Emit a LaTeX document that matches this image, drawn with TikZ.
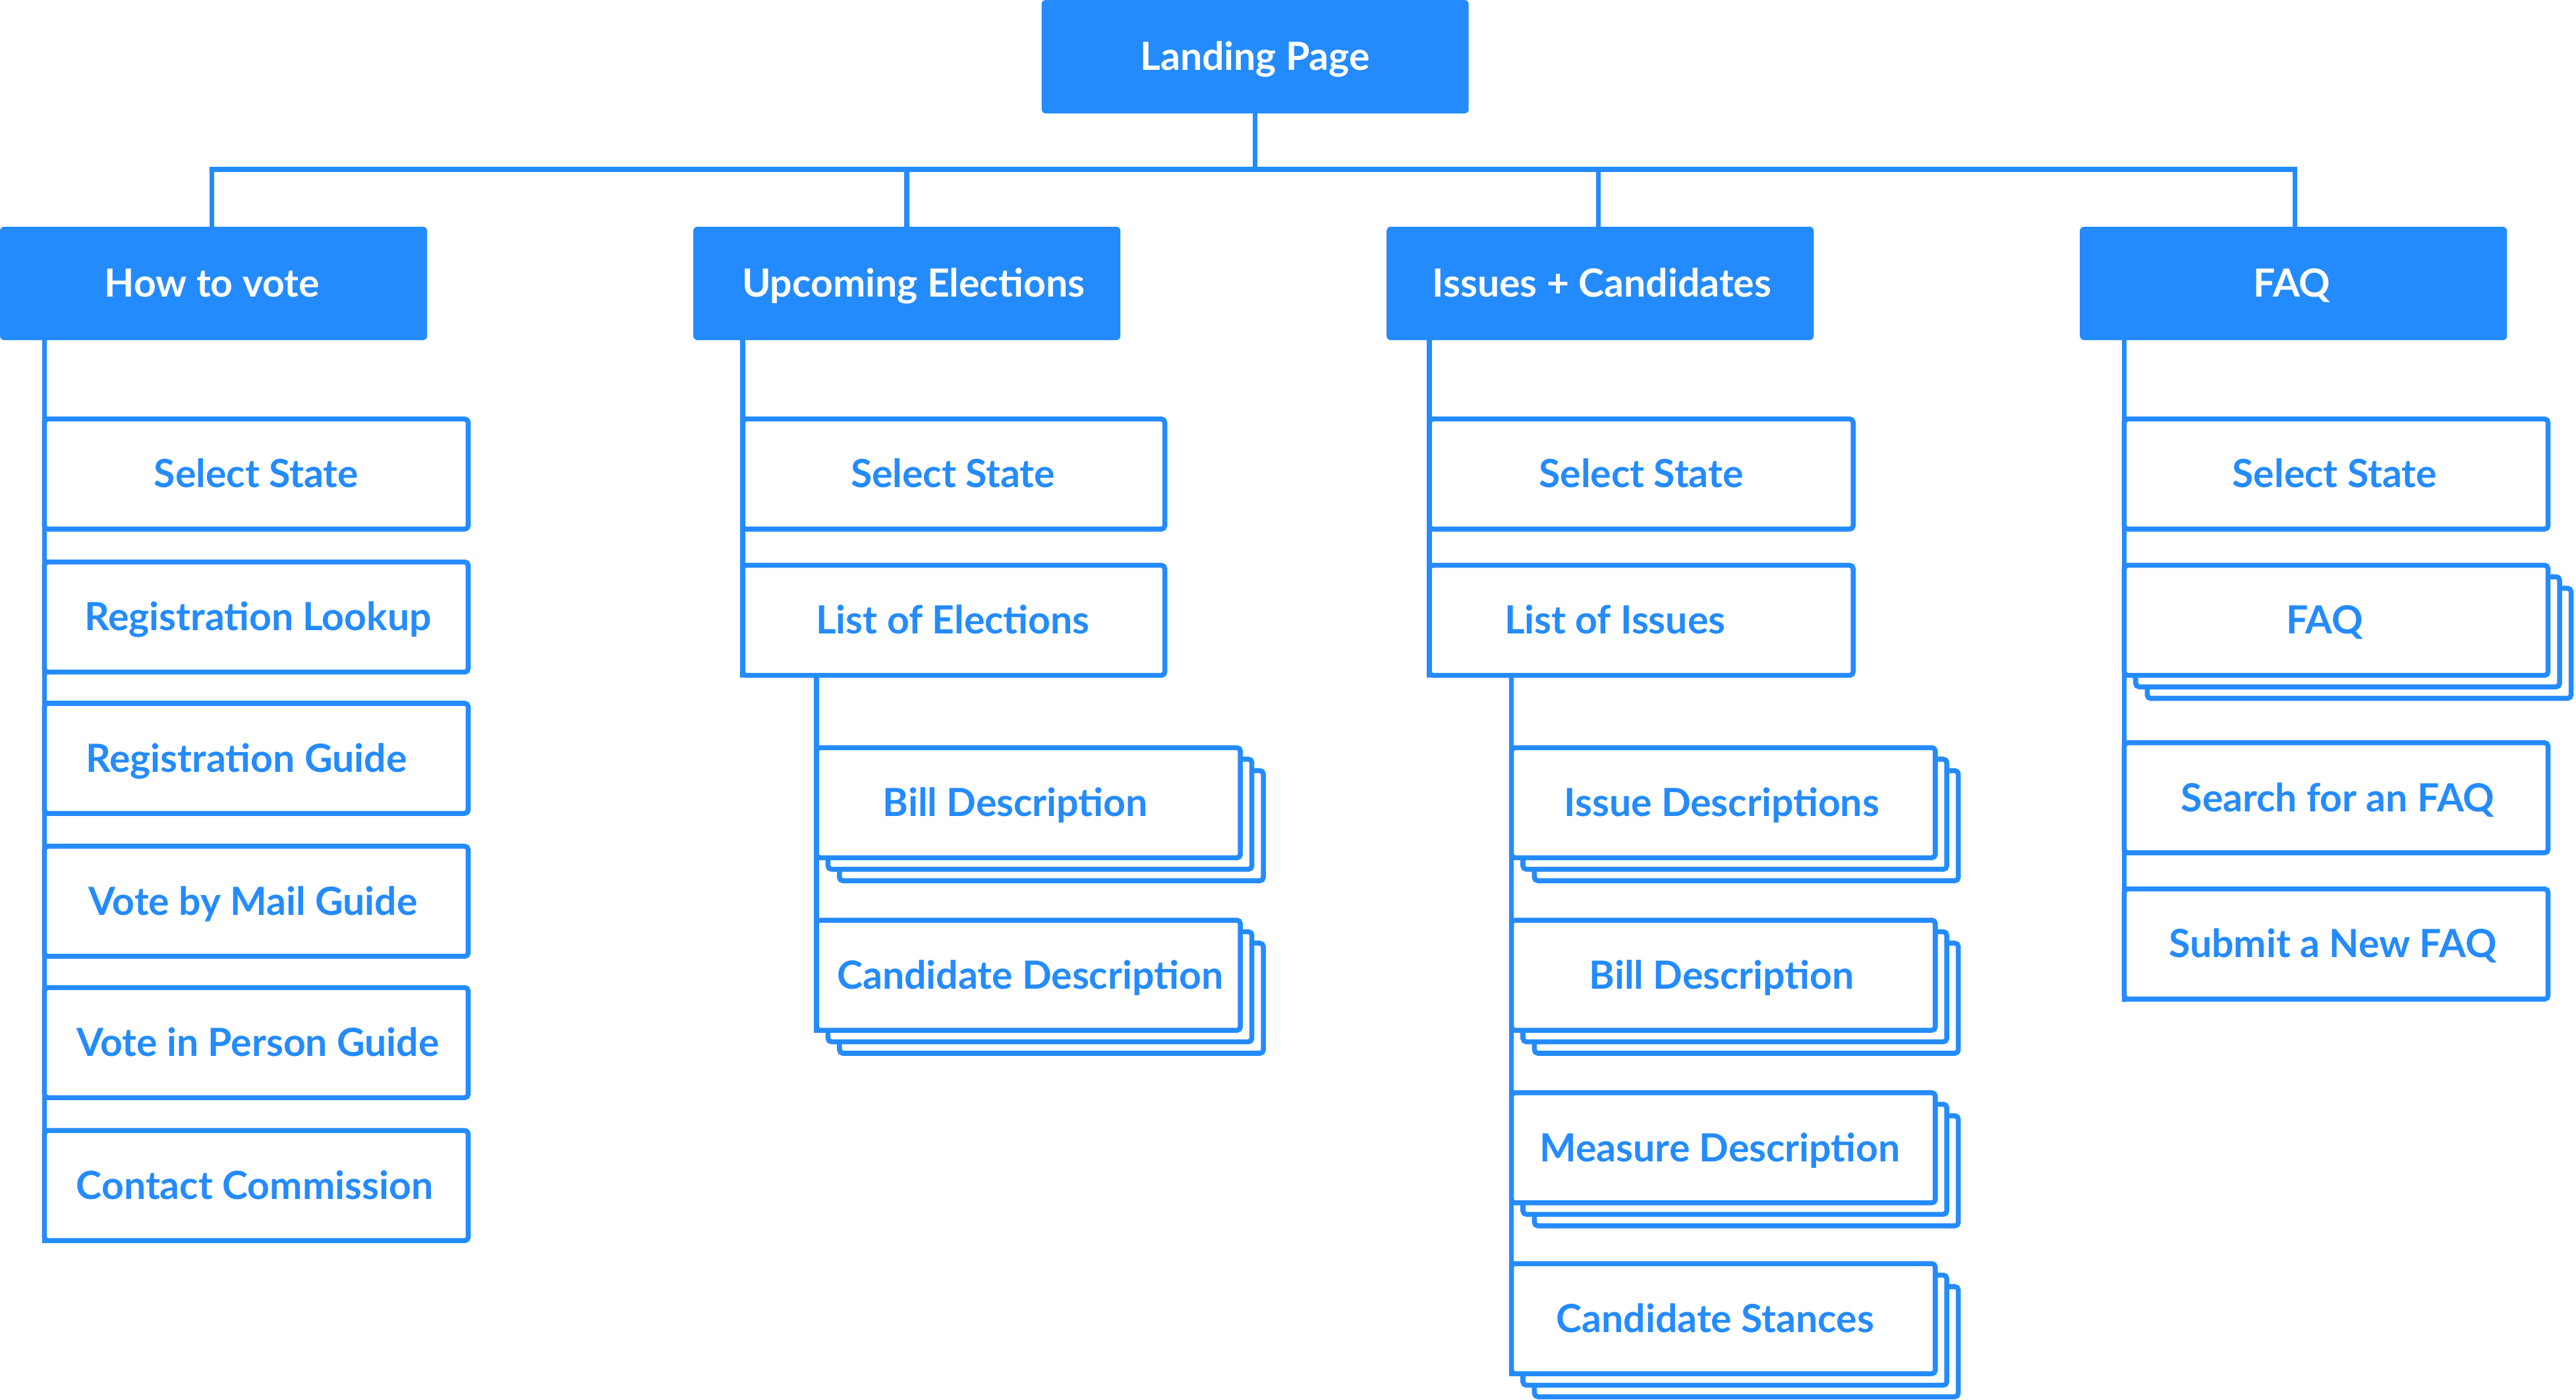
\documentclass[tikz,border=0pt]{standalone}
\usepackage{fontspec}
\setmainfont{Lato}
\usetikzlibrary{fit}
\definecolor{bl}{RGB}{36,139,254}
\tikzset{
  conn/.style={draw=bl, line width=2.15pt, line cap=rect},
  box/.style={draw=bl, line width=2.15pt, fill=white, rounded corners=1.5pt, inner sep=0pt, outer sep=0pt},
  cat/.style={fill=bl, draw=none, rounded corners=1.8pt, inner sep=0pt, outer sep=0pt},
  lbl/.style={text=bl, font=\bfseries\fontsize{16.8}{18}\selectfont, inner sep=0pt, anchor=base},
  wlbl/.style={text=white, font=\bfseries\fontsize{16.8}{18}\selectfont, inner sep=0pt, anchor=base},
}
\newcommand\mybox[7]{%
  \node[box, fit={(#2,#3) (#4,#5)}] (#1) {};
  \node[lbl] (#1t) at (#6,{(#3+#5)/2+8.3}) {#7};
}
\newcommand\mystack[7]{%
  \node[box, fit={(#2+14,#3+14) (#4+14,#5+14)}] (#1b) {};
  \node[box, fit={(#2+7,#3+7) (#4+7,#5+7)}] (#1a) {};
  \mybox{#1}{#2}{#3}{#4}{#5}{#6}{#7}
}
\newcommand\mycat[7]{%
  \node[cat, fit={(#2,#3) (#4,#5)}] (#1) {};
  \node[wlbl] (#1t) at (#6,{(#3+#5)/2+8.3}) {#7};
}
\begin{document}
\begin{tikzpicture}[x=0.025cm,y=-0.025cm]
\useasboundingbox (0,0) rectangle (1568,852);
% top level
\mycat{land}{634}{0}{894}{69}{764}{Landing Page}
\mycat{k1}{0}{138}{260}{207}{129}{How to vote}
\mycat{k2}{422}{138}{682}{207}{556}{Upcoming Elections}
\mycat{k3}{844}{138}{1104}{207}{975}{Issues + Candidates}
\mycat{k4}{1266}{138}{1526}{207}{1395}{FAQ}
\coordinate (busL) at (129,103);
\coordinate (bus2) at (552,103);
\coordinate (bus3) at (973,103);
\coordinate (busR) at (1397,103);
\draw[conn] (busL |- k1.north) -- (busL) -- (busR) -- (busR |- k4.north);
\draw[conn] (land.south) -- (land.south |- busL);
\draw[conn] (bus2) -- (bus2 |- k2.north);
\draw[conn] (bus3) -- (bus3 |- k3.north);
% column 1
\mybox{a1}{27}{255}{285}{322}{156}{Select State}
\mybox{a2}{27}{342}{285}{409}{157}{Registration Lookup}
\mybox{a3}{27}{428}{285}{495}{150}{Registration Guide}
\mybox{a4}{27}{515}{285}{582}{154}{Vote by Mail Guide}
\mybox{a5}{27}{601}{285}{668}{157}{Vote in Person Guide}
\mybox{a6}{27}{688}{285}{755}{155}{Contact Commission}
\draw[conn] (k1.south -| a1.west) -- (a6.south west);
% column 2
\mybox{b1}{452}{255}{709}{322}{580}{Select State}
\mybox{b2}{452}{344}{709}{411}{580}{List of Elections}
\mystack{b3}{497}{455}{755}{522}{618}{Bill Description}
\mystack{b4}{497}{560}{755}{627}{627}{Candidate Description}
\draw[conn] (k2.south -| b1.west) -- (b2.south west);
\draw[conn] (b2.south -| b3.west) -- (b4.south west);
% column 3
\mybox{c1}{870}{255}{1128}{322}{999}{Select State}
\mybox{c2}{870}{344}{1128}{411}{983}{List of Issues}
\mystack{c3}{920}{455}{1178}{522}{1048}{Issue Descriptions}
\mystack{c4}{920}{560}{1178}{627}{1048}{Bill Description}
\mystack{c5}{920}{665}{1178}{732}{1047}{Measure Description}
\mystack{c6}{920}{769}{1178}{836}{1044}{Candidate Stances}
\draw[conn] (k3.south -| c1.west) -- (c2.south west);
\draw[conn] (c2.south -| c3.west) -- (c6.south west);
% column 4
\mybox{d1}{1293}{255}{1551}{322}{1421}{Select State}
\mystack{d2}{1293}{344}{1551}{411}{1415}{FAQ}
\mybox{d3}{1293}{452}{1551}{519}{1423}{Search for an FAQ}
\mybox{d4}{1293}{541}{1551}{608}{1420}{Submit a New FAQ}
\draw[conn] (k4.south -| d1.west) -- (d4.south west);
\end{tikzpicture}
\end{document}
